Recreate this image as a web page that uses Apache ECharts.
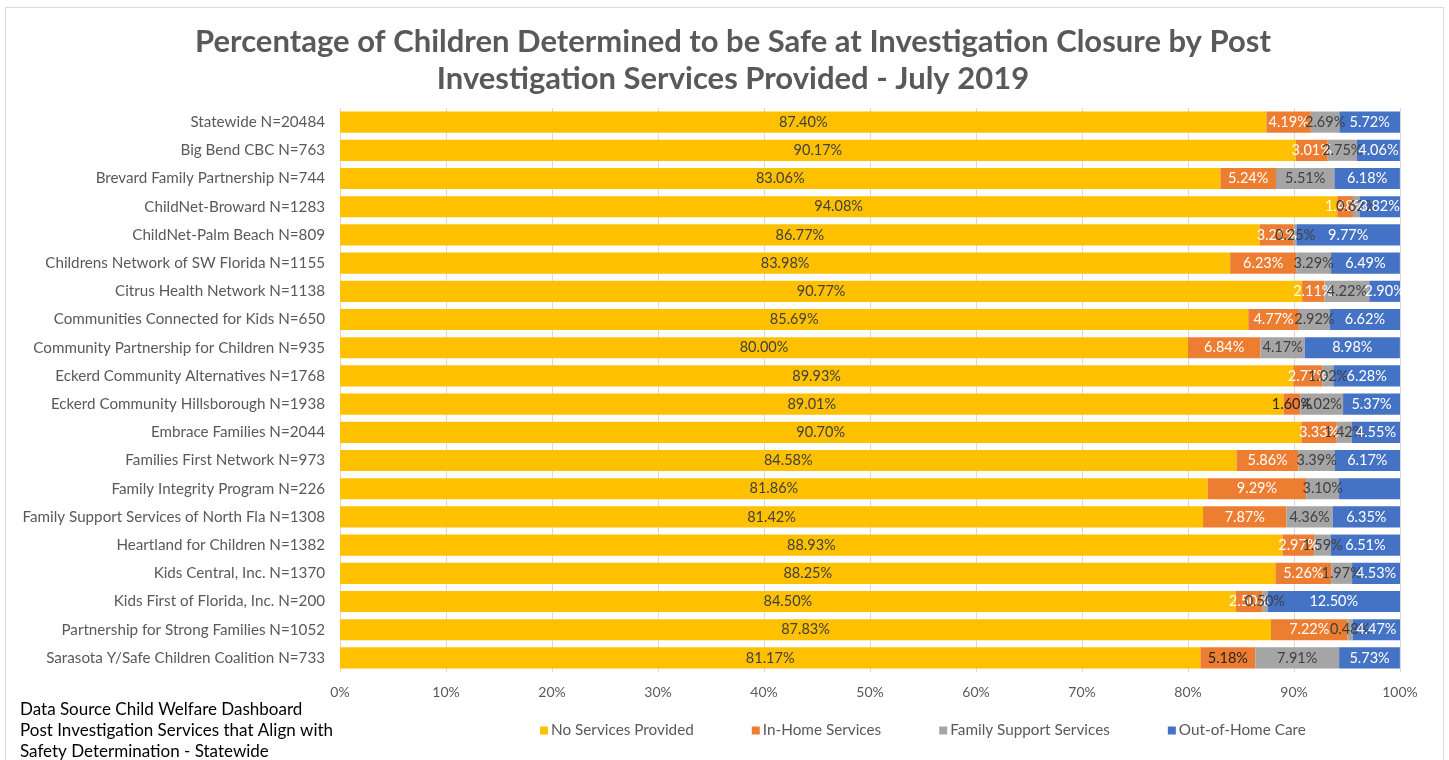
<!DOCTYPE html>
<html><head><meta charset="utf-8">
<script src="https://cdn.jsdelivr.net/npm/echarts@6/dist/echarts.min.js"></script>
<style>html,body{margin:0;padding:0;background:#fff}#c{width:1449px;height:760px}</style>
</head><body><div id="c"></div>
<script>
const categories = ["Statewide N=20484","Big Bend CBC N=763","Brevard Family Partnership N=744","ChildNet-Broward N=1283","ChildNet-Palm Beach N=809","Childrens Network of SW Florida N=1155","Citrus Health Network N=1138","Communities Connected for Kids N=650","Community Partnership for Children N=935","Eckerd Community Alternatives N=1768","Eckerd Community Hillsborough N=1938","Embrace Families N=2044","Families First Network N=973","Family Integrity Program N=226","Family Support Services of North Fla N=1308","Heartland for Children N=1382","Kids Central, Inc. N=1370","Kids First of Florida, Inc. N=200","Partnership for Strong Families N=1052","Sarasota Y/Safe Children Coalition N=733"];
const noServices = [87.40,90.17,83.06,94.08,86.77,83.98,90.77,85.69,80.00,89.93,89.01,90.70,84.58,81.86,81.42,88.93,88.25,84.50,87.83,81.17];
const inHome = [4.19,3.01,5.24,1.48,3.21,6.23,2.11,4.77,6.84,2.77,1.60,3.33,5.86,9.29,7.87,2.97,5.26,2.50,7.22,5.18];
const familySupport = [2.69,2.75,5.51,0.62,0.25,3.29,4.22,2.92,4.17,1.02,4.02,1.42,3.39,3.10,4.36,1.59,1.97,0.50,0.48,7.91];
const outOfHome = [5.72,4.06,6.18,3.82,9.77,6.49,2.90,6.62,8.98,6.28,5.37,4.55,6.17,5.75,6.35,6.51,4.53,12.50,4.47,5.73];
const seriesNames = ["No Services Provided","In-Home Services","Family Support Services","Out-of-Home Care"];
const tickLabels = ["0%","10%","20%","30%","40%","50%","60%","70%","80%","90%","100%"];

const FONT = "Lato";
const colors = ["#FFC000","#ED7D31","#A5A5A5","#4472C4"];
const labelColors = ["#404040","#ffffff","#404040","#ffffff"];
const allData = [noServices, inHome, familySupport, outOfHome];

function mkData(arr, si){
  return arr.map((v,i)=>{
    const d = {value:v};
    if (si===3 && i===13) d.label = {show:false};
    if (si===1 && (i===10 || i===19)) d.label = {color:"#262626"};
    return d;
  });
}

const chart = echarts.init(document.getElementById('c'), null, {renderer:'canvas'});
chart.setOption({
  animation:false,
  color: colors,
  textStyle:{fontFamily:FONT},
  title:{
    text:"Percentage of Children Determined to be Safe at Investigation Closure by Post\nInvestigation Services Provided - July 2019",
    left:728, top:18, textAlign:'center',
    textStyle:{fontFamily:FONT, fontWeight:'bold', fontSize:31, color:'#595959', lineHeight:37}
  },
  legend:{
    data: seriesNames,
    left:535, top:718,
    itemWidth:8, itemHeight:8, itemGap:58,
    icon:'rect',
    textStyle:{fontFamily:FONT, fontSize:15.3, color:'#595959', padding:[0,0,0,-2]}
  },
  grid:{left:340, right:49, top:108, bottom:88, containLabel:false},
  xAxis:{
    type:'value', min:0, max:100, interval:10,
    axisLabel:{formatter:(v)=>tickLabels[Math.round(v/10)], fontFamily:FONT, fontSize:14, color:'#595959', margin:13},
    axisLine:{show:false}, axisTick:{show:false},
    splitLine:{show:true, lineStyle:{color:'#d9d9d9', width:1}}
  },
  yAxis:{
    type:'category', data:categories, inverse:true,
    axisLabel:{fontFamily:FONT, fontSize:15.2, color:'#595959', margin:15},
    axisLine:{show:false}, axisTick:{show:false}
  },
  series: seriesNames.map((n,si)=>({
    name:n, type:'bar', stack:'total', barCategoryGap:'25%',
    data: mkData(allData[si], si),
    label:{show:true, position:'inside', formatter:(p)=>p.value.toFixed(2)+'%', fontFamily:FONT, fontSize:14.5, color:labelColors[si]}
  })),
  graphic:[
    {type:'rect', shape:{x:5.5,y:7.5,width:1438,height:800}, style:{fill:null, stroke:'#d9d9d9', lineWidth:1}, silent:true},
    {type:'text', left:20, top:699, style:{text:"Data Source Child Welfare Dashboard\nPost Investigation Services that Align with\nSafety Determination - Statewide", font:"17px Lato", fill:'#000', lineHeight:21}}
  ]
});
</script>
</body></html>
